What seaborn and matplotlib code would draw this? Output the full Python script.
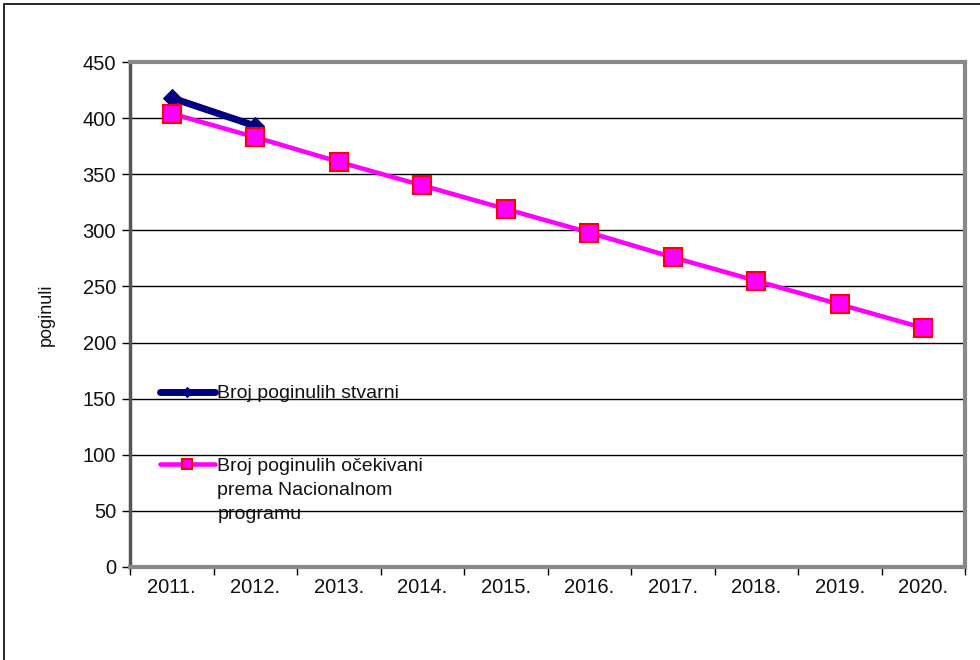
import pandas as pd
import numpy as np
import seaborn as sns
from matplotlib import pyplot as plt
from matplotlib.patches import Rectangle

years = ['2011.', '2012.', '2013.', '2014.', '2015.', '2016.', '2017.', '2018.', '2019.', '2020.']
stvarni = [418, 393]
ocekivani = [404, 383, 361, 340, 319, 298, 276, 255, 234, 213]

label_stvarni = 'Broj poginulih stvarni'
label_ocekivani = 'Broj poginulih očekivani\nprema Nacionalnom\nprogramu'

df_s = pd.DataFrame({'x': np.arange(len(stvarni)), 'y': stvarni})
df_o = pd.DataFrame({'x': np.arange(len(ocekivani)), 'y': ocekivani})

sns.set_style('white')
plt.rcParams['font.family'] = ['Liberation Sans', 'DejaVu Sans']

fig = plt.figure(figsize=(9.8, 6.6), dpi=100)
ax = fig.add_axes([130 / 980, 1 - 567 / 660, 835 / 980, 505 / 660])

sns.lineplot(data=df_o, x='x', y='y', ax=ax, color='#ff00ff', lw=3.3,
             marker='s', markersize=13, markerfacecolor='#ff00ff',
             markeredgecolor='#ff0000', markeredgewidth=1.5,
             label=label_ocekivani, zorder=3)
sns.lineplot(data=df_s, x='x', y='y', ax=ax, color='#000080', lw=5,
             marker='D', markersize=9, markerfacecolor='#000080',
             markeredgecolor='#000080', label=label_stvarni, zorder=2)

ax.set_xlim(-0.5, len(years) - 0.5)
ax.set_ylim(0, 450)
ax.set_yticks(range(0, 451, 50))
ax.set_xticks(range(len(years)))
ax.set_xticklabels(years)
ax.set_xticks(np.arange(-0.5, len(years), 1), minor=True)
ax.tick_params(axis='x', which='major', length=0, labelsize=14.5, pad=8, colors='#111111')
ax.tick_params(axis='x', which='minor', length=6, width=1, color='black', direction='out', bottom=True)
ax.tick_params(axis='y', length=6, width=1, color='black', direction='out', left=True,
               labelsize=14.5, pad=4, labelcolor='#111111')
ax.yaxis.grid(True, color='black', lw=1)
ax.set_xlabel('')
ax.set_ylabel('poginuli', fontsize=13, labelpad=20, color='#111111')

for side in ['top', 'right', 'bottom']:
    ax.spines[side].set_color('#888888')
    ax.spines[side].set_linewidth(3)
ax.spines['left'].set_color('#555555')
ax.spines['left'].set_linewidth(2.5)

h, l = ax.get_legend_handles_labels()
leg = ax.legend(h[::-1], l[::-1], loc='upper left', bbox_to_anchor=(0.036, 0.36),
                frameon=False, fontsize=14, borderaxespad=0, borderpad=0,
                handlelength=2.8, handletextpad=0.15, labelspacing=2.85, markerscale=0.6)
for t in leg.get_texts():
    t.set_color('#111111')
    t.set_linespacing(1.55)
# handle next to the first line of a multi-line label
for col in leg._legend_handle_box.get_children():
    for item in col.get_children():
        item.align = 'top'

fig.patches.append(Rectangle((4 / 980, -0.1), 1.2, 1.1 - 4 / 660, transform=fig.transFigure,
                             fill=False, edgecolor='black', lw=1.2, figure=fig))

fig.savefig('out.png', dpi=100)
